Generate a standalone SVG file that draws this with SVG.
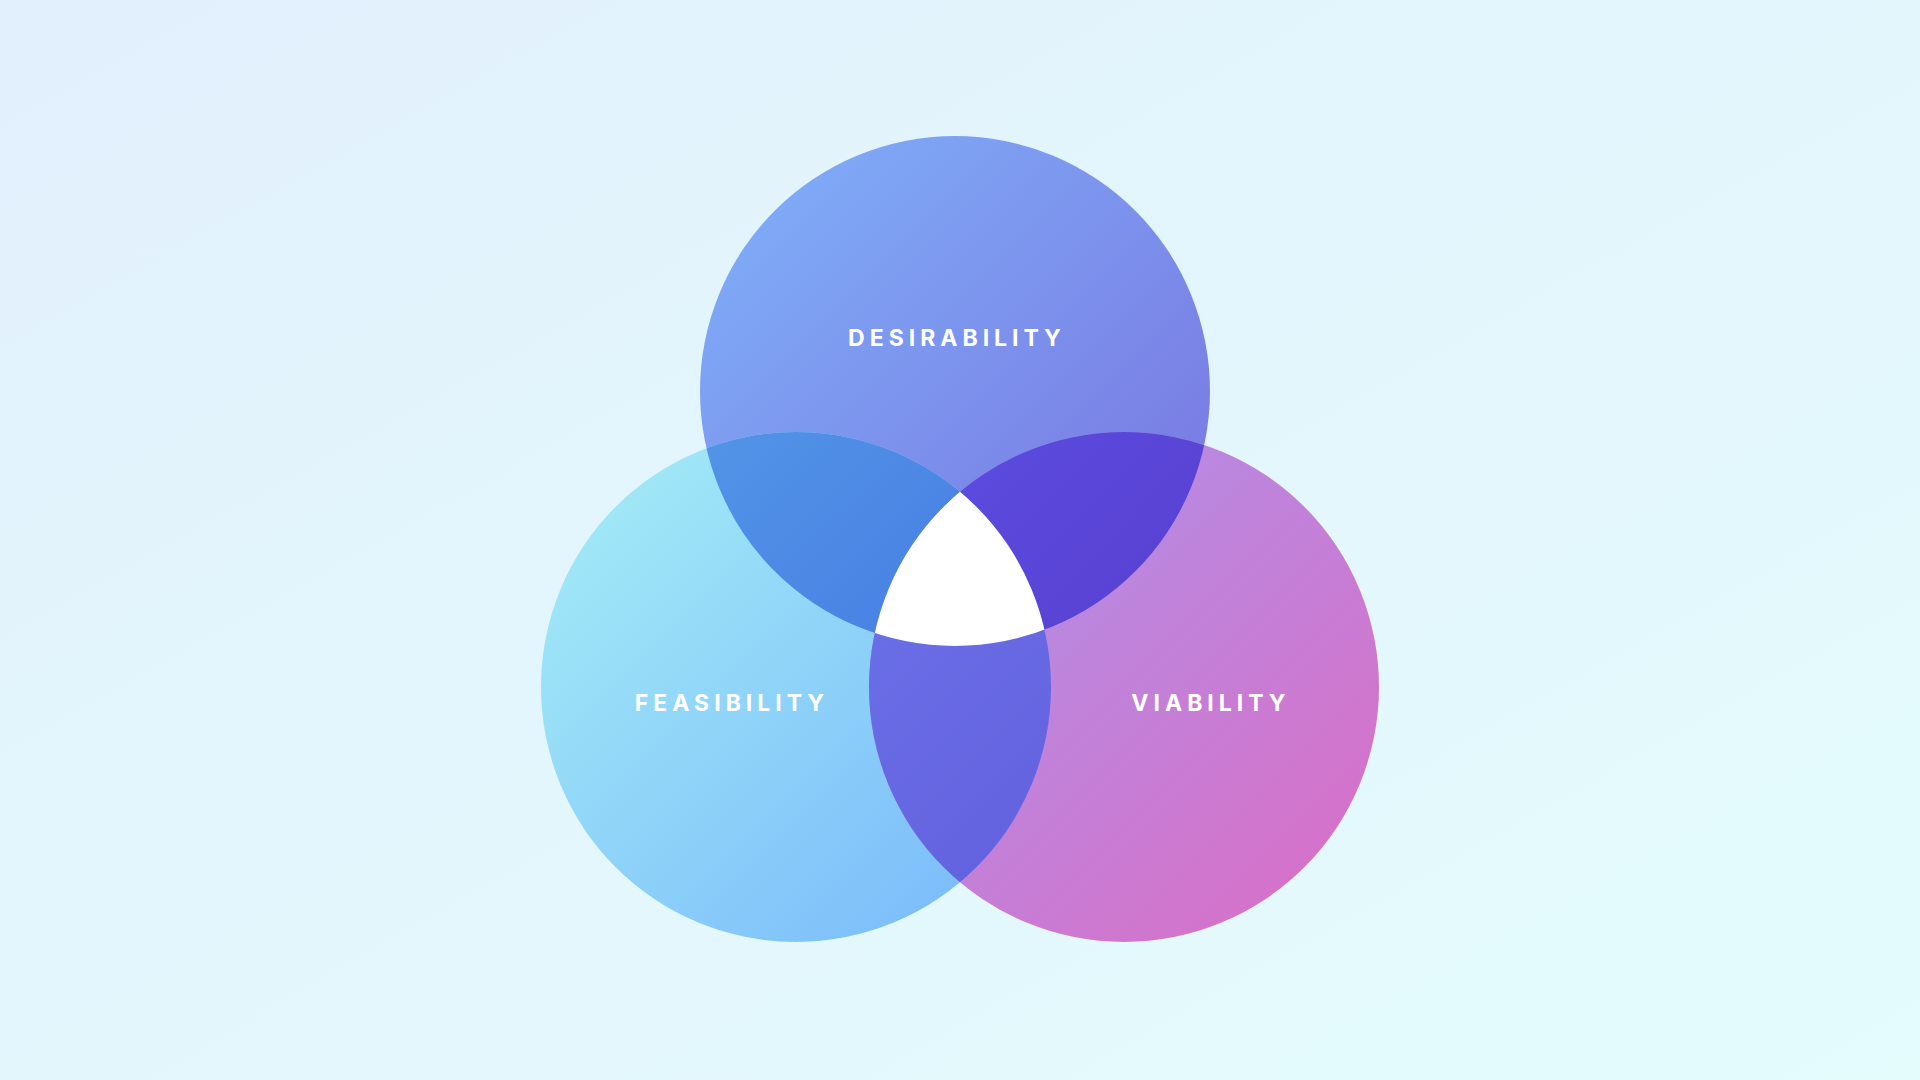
<svg xmlns="http://www.w3.org/2000/svg" width="1920" height="1080" viewBox="0 0 1920 1080">
<style>
.lbl{font-family:Inter,"Liberation Sans",sans-serif;font-weight:700;font-size:23px;letter-spacing:5px;fill:#fff;text-anchor:middle;dominant-baseline:middle}
</style>
<defs>
<linearGradient id="bg" x1="0" y1="0" x2="1" y2="1"><stop offset="0" stop-color="#e2f0fd"/><stop offset="1" stop-color="#e4fcfc"/></linearGradient>
<linearGradient id="gD" x1="0" y1="0" x2="1" y2="1"><stop offset="0" stop-color="#80b2fa"/><stop offset="1" stop-color="#7870de"/></linearGradient>
<linearGradient id="gF" x1="0" y1="0" x2="1" y2="1"><stop offset="0" stop-color="#a6eff6"/><stop offset="1" stop-color="#76b6fb"/></linearGradient>
<linearGradient id="gV" x1="0" y1="0" x2="1" y2="1"><stop offset="0" stop-color="#a896ee"/><stop offset="1" stop-color="#dc6cc4"/></linearGradient>
<linearGradient id="gDF" x1="0" y1="0" x2="1" y2="1"><stop offset="0" stop-color="#569ce8"/><stop offset="1" stop-color="#3e6ce0"/></linearGradient>
<linearGradient id="gDV" x1="0" y1="0" x2="1" y2="1"><stop offset="0" stop-color="#5c4ee2"/><stop offset="1" stop-color="#5432be"/></linearGradient>
<linearGradient id="gFV" x1="0" y1="0" x2="1" y2="1"><stop offset="0" stop-color="#6c74ea"/><stop offset="1" stop-color="#5e54d6"/></linearGradient>
<clipPath id="cD"><circle cx="955" cy="391" r="255"/></clipPath>
<clipPath id="cF"><circle cx="796" cy="687" r="255"/></clipPath>
<clipPath id="cV"><circle cx="1124" cy="687" r="255"/></clipPath>
</defs>
<rect width="1920" height="1080" fill="url(#bg)"/>
<g id="desirability"><circle cx="955" cy="391" r="255" fill="url(#gD)"/></g>
<g id="feasibility"><circle cx="796" cy="687" r="255" fill="url(#gF)"/></g>
<g id="viability"><circle cx="1124" cy="687" r="255" fill="url(#gV)"/></g>
<g id="overlaps">
<g clip-path="url(#cD)"><circle cx="796" cy="687" r="255" fill="url(#gDF)"/></g>
<g clip-path="url(#cD)"><circle cx="1124" cy="687" r="255" fill="url(#gDV)"/></g>
<g clip-path="url(#cF)"><circle cx="1124" cy="687" r="255" fill="url(#gFV)"/></g>
<g clip-path="url(#cD)"><g clip-path="url(#cF)"><circle cx="1124" cy="687" r="255" fill="#fff"/></g></g>
</g>
<text class="lbl" x="957" y="340">DESIRABILITY</text>
<text class="lbl" x="732" y="705">FEASIBILITY</text>
<text class="lbl" x="1211" y="705">VIABILITY</text>
</svg>
